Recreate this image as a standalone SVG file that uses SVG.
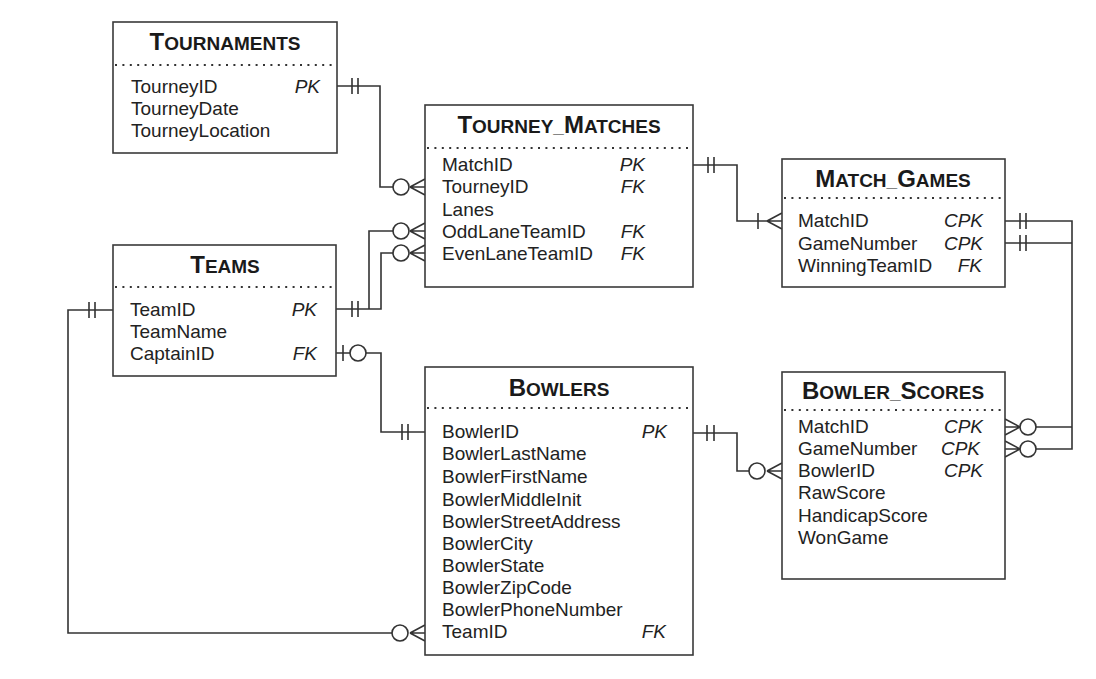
<svg xmlns="http://www.w3.org/2000/svg" width="1096" height="679" viewBox="0 0 1096 679">
<style>
.box{fill:#fff;stroke:#3a3a3a;stroke-width:1.6}
.dot{stroke:#333;stroke-width:2;stroke-dasharray:2 5.4;fill:none}
.t{font-family:"Liberation Sans",Arial,sans-serif;font-size:19px;fill:#222}
.k{font-family:"Liberation Sans",Arial,sans-serif;font-size:19px;fill:#222;font-style:italic;text-anchor:end}
.h{font-family:"Liberation Sans",Arial,sans-serif;font-weight:bold;fill:#1a1a1a;text-anchor:middle;font-size:19px}
.b{font-size:24px}
.c{fill:none;stroke:#333;stroke-width:1.6}
.o{fill:#fff;stroke:#333;stroke-width:1.6}
</style>
<rect width="1096" height="679" fill="#fff"/>
<g id="connectors">
<!-- Tournaments -> Tourney_Matches -->
<path class="c" d="M337,86 H380 V187 H393 M352,78 V94 M358,78 V94 M410,187 L425,179 M410,187 H425 M410,187 L425,195"/>
<circle class="o" cx="401" cy="187" r="8"/>
<!-- Teams -> Tourney_Matches (Odd/Even lane) -->
<path class="c" d="M336,309 H369 V231 H393 M369,309 H381 V253 H393 M352,301 V317 M358,301 V317 M410,231 L425,223 M410,231 H425 M410,231 L425,239 M410,253 L425,245 M410,253 H425 M410,253 L425,261"/>
<circle class="o" cx="401" cy="231" r="8"/>
<circle class="o" cx="401" cy="253" r="8"/>
<!-- Tourney_Matches -> Match_Games -->
<path class="c" d="M693,165 H737 V221 H782 M708,157 V173 M714,157 V173 M758,213 V229 M767,221 L782,213 M767,221 L782,229"/>
<!-- Match_Games -> Bowler_Scores -->
<path class="c" d="M1005,221 H1072 V427 H1036 M1005,243 H1072 V449 H1036 M1020,213 V229 M1026,213 V229 M1020,235 V251 M1026,235 V251 M1020,427 L1005,419 M1020,427 H1005 M1020,427 L1005,435 M1020,449 L1005,441 M1020,449 H1005 M1020,449 L1005,457"/>
<circle class="o" cx="1028" cy="427" r="8"/>
<circle class="o" cx="1028" cy="449" r="8"/>
<!-- Teams TeamID -> Bowlers TeamID -->
<path class="c" d="M113,310 H68 V633 H392 M89,302 V318 M95,302 V318 M410,633 L425,625 M410,633 H425 M410,633 L425,641"/>
<circle class="o" cx="400" cy="633" r="8"/>
<!-- Teams CaptainID -> Bowlers BowlerID -->
<path class="c" d="M336,353 H350 M366,353 H381 V432 H425 M343,345 V361 M402,424 V440 M408,424 V440"/>
<circle class="o" cx="358" cy="353" r="8"/>
<!-- Bowlers -> Bowler_Scores -->
<path class="c" d="M693,433 H737 V471 H749 M707,425 V441 M714,425 V441 M767,471 L782,463 M767,471 H782 M767,471 L782,479"/>
<circle class="o" cx="757" cy="471" r="8"/>
</g>
<g id="tournaments">
<rect class="box" x="113" y="22" width="224" height="131"/>
<text class="h" x="225" y="50"><tspan class="b">T</tspan>OURNAMENTS</text>
<line class="dot" x1="115" y1="65" x2="336" y2="65"/>
<text class="t" x="131" y="93">TourneyID</text><text class="k" x="320" y="93">PK</text>
<text class="t" x="131" y="115">TourneyDate</text>
<text class="t" x="131" y="137">TourneyLocation</text>
</g>
<g id="tourney_matches">
<rect class="box" x="425" y="105" width="268" height="182"/>
<text class="h" x="559" y="133"><tspan class="b">T</tspan>OURNEY_<tspan class="b">M</tspan>ATCHES</text>
<line class="dot" x1="427" y1="148" x2="692" y2="148"/>
<text class="t" x="442" y="171">MatchID</text><text class="k" x="645" y="171">PK</text>
<text class="t" x="442" y="193">TourneyID</text><text class="k" x="645" y="193">FK</text>
<text class="t" x="442" y="216">Lanes</text>
<text class="t" x="442" y="238">OddLaneTeamID</text><text class="k" x="645" y="238">FK</text>
<text class="t" x="442" y="260">EvenLaneTeamID</text><text class="k" x="645" y="260">FK</text>
</g>
<g id="match_games">
<rect class="box" x="782" y="159" width="223" height="128"/>
<text class="h" x="893" y="187"><tspan class="b">M</tspan>ATCH_<tspan class="b">G</tspan>AMES</text>
<line class="dot" x1="784" y1="198" x2="1004" y2="198"/>
<text class="t" x="798" y="227">MatchID</text><text class="k" x="983" y="227">CPK</text>
<text class="t" x="798" y="250">GameNumber</text><text class="k" x="983" y="250">CPK</text>
<text class="t" x="798" y="272">WinningTeamID</text><text class="k" x="982" y="272">FK</text>
</g>
<g id="teams">
<rect class="box" x="113" y="245" width="223" height="131"/>
<text class="h" x="225" y="273"><tspan class="b">T</tspan>EAMS</text>
<line class="dot" x1="115" y1="287" x2="335" y2="287"/>
<text class="t" x="130" y="316">TeamID</text><text class="k" x="317" y="316">PK</text>
<text class="t" x="130" y="338">TeamName</text>
<text class="t" x="130" y="360">CaptainID</text><text class="k" x="317" y="360">FK</text>
</g>
<g id="bowlers">
<rect class="box" x="425" y="367" width="268" height="288"/>
<text class="h" x="559" y="396"><tspan class="b">B</tspan>OWLERS</text>
<line class="dot" x1="427" y1="408" x2="692" y2="408"/>
<text class="t" x="442" y="438">BowlerID</text><text class="k" x="667" y="438">PK</text>
<text class="t" x="442" y="460">BowlerLastName</text>
<text class="t" x="442" y="483">BowlerFirstName</text>
<text class="t" x="442" y="506">BowlerMiddleInit</text>
<text class="t" x="442" y="528">BowlerStreetAddress</text>
<text class="t" x="442" y="550">BowlerCity</text>
<text class="t" x="442" y="572">BowlerState</text>
<text class="t" x="442" y="594">BowlerZipCode</text>
<text class="t" x="442" y="616">BowlerPhoneNumber</text>
<text class="t" x="442" y="638">TeamID</text><text class="k" x="666" y="638">FK</text>
</g>
<g id="bowler_scores">
<rect class="box" x="782" y="372" width="223" height="207"/>
<text class="h" x="893" y="399"><tspan class="b">B</tspan>OWLER_<tspan class="b">S</tspan>CORES</text>
<line class="dot" x1="784" y1="410" x2="1004" y2="410"/>
<text class="t" x="798" y="433">MatchID</text><text class="k" x="983" y="433">CPK</text>
<text class="t" x="798" y="455">GameNumber</text><text class="k" x="980" y="455">CPK</text>
<text class="t" x="798" y="477">BowlerID</text><text class="k" x="983" y="477">CPK</text>
<text class="t" x="798" y="499">RawScore</text>
<text class="t" x="798" y="522">HandicapScore</text>
<text class="t" x="798" y="544">WonGame</text>
</g>
</svg>
